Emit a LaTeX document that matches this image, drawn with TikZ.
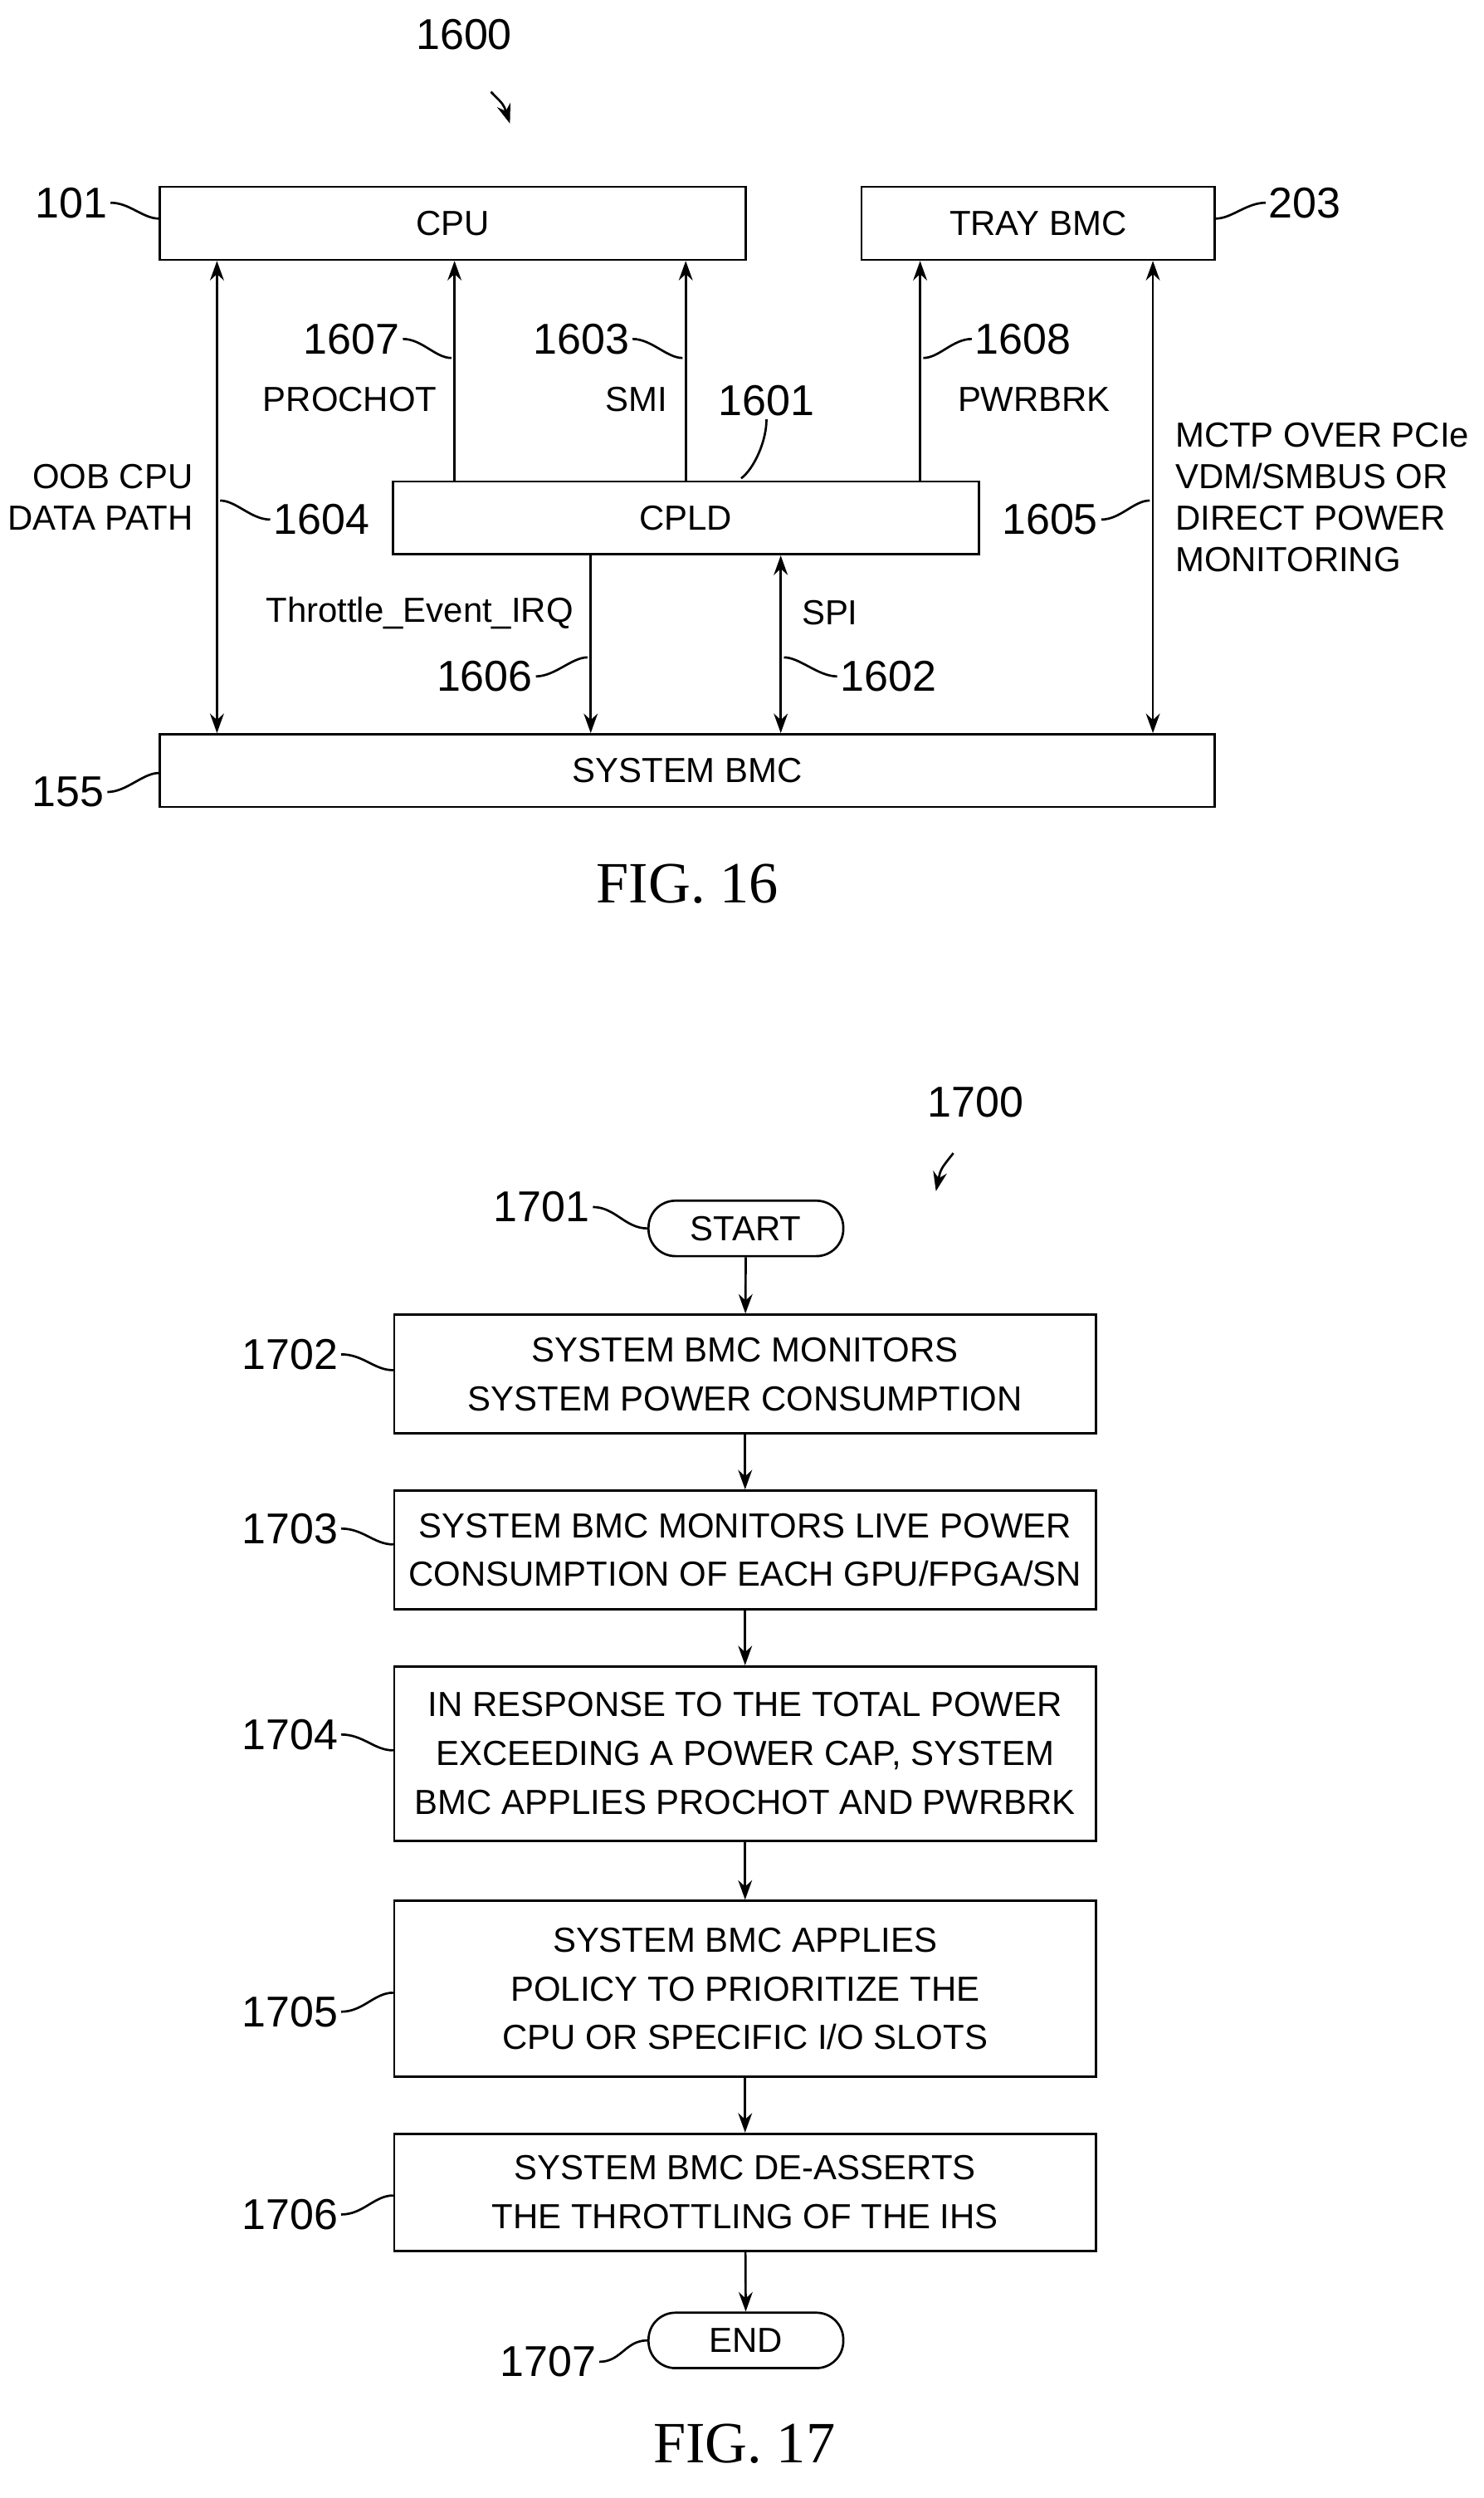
\documentclass[tikz,border=0pt]{standalone}
\usepackage{fontspec}
\setmainfont{Liberation Sans}
\newfontfamily\figfont{Liberation Serif}
\usetikzlibrary{arrows.meta}
\tikzset{
  blk/.style={draw, thick, minimum height=46*0.02cm, inner sep=0pt, font=\fontsize{12.5}{15}\selectfont},
  procbox/.style={draw, thick, minimum width=443*0.02cm, inner sep=0pt, align=center, font=\fontsize{12.5}{17.5}\selectfont},
  term/.style={draw, thick, rounded corners=17*0.02cm, minimum width=123*0.02cm, minimum height=35*0.02cm, inner sep=0pt, font=\fontsize{12.5}{15}\selectfont},
  sig/.style={font=\fontsize{12.5}{15}\selectfont, align=left},
  num/.style={font=\fontsize{15.5}{18}\selectfont, inner sep=1pt},
  fig/.style={font=\figfont\fontsize{21}{24}\selectfont},
  wire/.style={thick, -{Stealth[length=7pt,width=5pt]}},
  dwire/.style={thick, {Stealth[length=7pt,width=5pt]}-{Stealth[length=7pt,width=5pt]}},
  lead/.style={thick}
}
\begin{document}
\begin{tikzpicture}[x=0.02cm, y=-0.02cm]
\useasboundingbox (0,0) rectangle (937,1577);
        % ---FIG. 16
        \node[num] (n1600) at (293,22) {1600};
        \draw[wire] (310,58) .. controls (318,66) .. (322,78);
        
        \node[blk, minimum width=370*0.02cm] (cpu) at (286,141) {CPU};
        \node[blk, minimum width=223*0.02cm] (tray) at (655.5,141) {TRAY BMC};
        \node[blk, minimum width=370*0.02cm] (cpld) at (433,327) {CPLD};
        \node[blk, minimum width=666*0.02cm] (sbmc) at (434,486.5) {SYSTEM BMC};
        
        \draw[dwire] (cpu.south -| 137,0) -- (sbmc.north -| 137,0);
        \draw[wire] (cpld.north -| 287,0) -- (cpu.south -| 287,0);
        \draw[wire] (cpld.north -| 433,0) -- (cpu.south -| 433,0);
        \draw[wire] (cpld.north -| 581,0) -- (tray.south -| 581,0);
        \draw[dwire] (tray.south -| 728,0) -- (sbmc.north -| 728,0);
        \draw[wire] (cpld.south -| 373,0) -- (sbmc.north -| 373,0);
        \draw[dwire] (cpld.south -| 493,0) -- (sbmc.north -| 493,0);
        
        \node[sig, align=right, anchor=east] (oob) at (128,314) {OOB CPU\\DATA PATH};
        \node[sig] (prochot) at (221,252) {PROCHOT};
        \node[sig] (smi) at (402,252) {SMI};
        \node[sig] (pwrbrk) at (653,252) {PWRBRK};
        \node[sig, anchor=west] (mctp) at (736,314) {MCTP OVER PCIe\\VDM/SMBUS OR\\DIRECT POWER\\MONITORING};
        \node[sig] (irq) at (265,387) {Throttle\_Event\_IRQ};
        \node[sig] (spi) at (524,387) {SPI};
        
        \node[num] (n101) at (45,128) {101};
        \node[num] (n203) at (824,128) {203};
        \node[num] (n155) at (43,500) {155};
        \node[num] (n1604) at (203,328) {1604};
        \node[num] (n1607) at (222,214) {1607};
        \node[num] (n1603) at (367,214) {1603};
        \node[num] (n1608) at (646,214) {1608};
        \node[num] (n1601) at (484,253) {1601};
        \node[num] (n1605) at (663,328) {1605};
        \node[num] (n1606) at (306,427) {1606};
        \node[num] (n1602) at (561,427) {1602};
        
        \draw[lead] (n101.east) .. controls +(12,0) and +(-10,0) .. (cpu.west |- 0,138);
        \draw[lead] (n203.west) .. controls +(-12,0) and +(10,0) .. (tray.east |- 0,138);
        \draw[lead] (n155.east) .. controls +(12,0) and +(-10,0) .. (sbmc.west |- 0,488);
        \draw[lead] (n1604.west) .. controls +(-12,0) and +(10,0) .. (139,316);
        \draw[lead] (n1607.east) .. controls +(12,0) and +(-10,0) .. (285,226);
        \draw[lead] (n1603.east) .. controls +(12,0) and +(-10,0) .. (431,226);
        \draw[lead] (n1608.west) .. controls +(-12,0) and +(10,0) .. (583,226);
        \draw[lead] (n1601.south) .. controls +(0,14) and +(8,-6) .. (468,302);
        \draw[lead] (n1605.east) .. controls +(12,0) and +(-10,0) .. (726,316);
        \draw[lead] (n1606.east) .. controls +(12,0) and +(-10,0) .. (371,415);
        \draw[lead] (n1602.west) .. controls +(-12,0) and +(10,0) .. (495,415);
        
        \node[fig] (fig16) at (434,558) {FIG. 16};
        
        % ---FIG. 17
        \node[num] (n1700) at (616,696) {1700};
        \draw[wire] (602,728) .. controls (594,738) .. (591,752);
        
        \node[term] (start) at (471,775.5) {START};
        \node[procbox, minimum height=75*0.02cm] (s1702) at (470.5,867.5) {SYSTEM BMC MONITORS\\SYSTEM POWER CONSUMPTION};
        \node[procbox, minimum height=75*0.02cm] (s1703) at (470.5,978.5) {SYSTEM BMC MONITORS LIVE POWER\\CONSUMPTION OF EACH GPU/FPGA/SN};
        \node[procbox, minimum height=110*0.02cm] (s1704) at (470.5,1107) {IN RESPONSE TO THE TOTAL POWER\\EXCEEDING A POWER CAP, SYSTEM\\BMC APPLIES PROCHOT AND PWRBRK};
        \node[procbox, minimum height=111*0.02cm] (s1705) at (470.5,1255.5) {SYSTEM BMC APPLIES\\POLICY TO PRIORITIZE THE\\CPU OR SPECIFIC I/O SLOTS};
        \node[procbox, minimum height=74*0.02cm] (s1706) at (470.5,1384) {SYSTEM BMC DE-ASSERTS\\THE THROTTLING OF THE IHS};
        \node[term] (end) at (471,1477.5) {END};
        
        \draw[wire] (start) -- (s1702);
        \draw[wire] (s1702) -- (s1703);
        \draw[wire] (s1703) -- (s1704);
        \draw[wire] (s1704) -- (s1705);
        \draw[wire] (s1705) -- (s1706);
        \draw[wire] (s1706) -- (end);
        
        \node[num] (n1701) at (342,762) {1701};
        \node[num] (n1702) at (183,855) {1702};
        \node[num] (n1703) at (183,965) {1703};
        \node[num] (n1704) at (183,1095) {1704};
        \node[num] (n1705) at (183,1270) {1705};
        \node[num] (n1706) at (183,1398) {1706};
        \node[num] (n1707) at (346,1491) {1707};
        
        \draw[lead] (n1701.east) .. controls +(14,0) and +(-14,0) .. (start.west);
        \draw[lead] (n1702.east) .. controls +(14,0) and +(-12,0) .. (s1702.west |- 0,865);
        \draw[lead] (n1703.east) .. controls +(14,0) and +(-12,0) .. (s1703.west |- 0,975);
        \draw[lead] (n1704.east) .. controls +(14,0) and +(-12,0) .. (s1704.west |- 0,1105);
        \draw[lead] (n1705.east) .. controls +(14,0) and +(-12,0) .. (s1705.west |- 0,1258);
        \draw[lead] (n1706.east) .. controls +(14,0) and +(-12,0) .. (s1706.west |- 0,1386);
        \draw[lead] (n1707.east) .. controls +(14,0) and +(-14,0) .. (end.west);
        
        \node[fig] (fig17) at (470,1543) {FIG. 17};
\end{tikzpicture}
\end{document}
